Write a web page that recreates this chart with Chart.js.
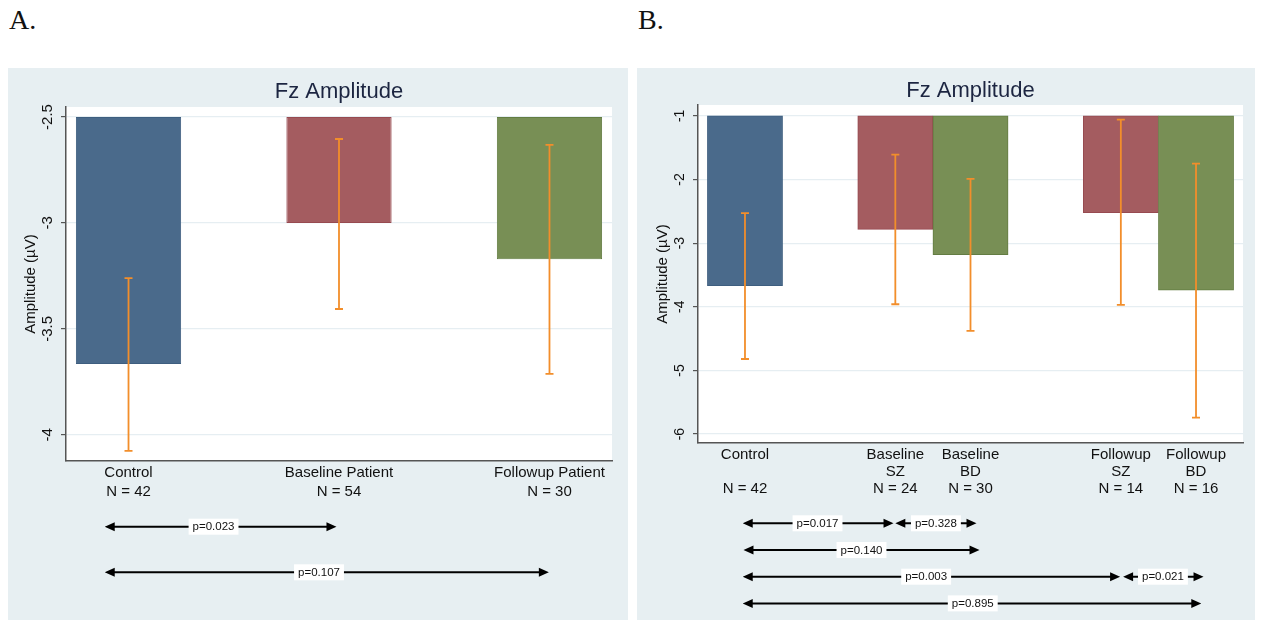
<!DOCTYPE html>
<html>
<head>
<meta charset="utf-8">
<script src="https://cdn.jsdelivr.net/npm/chart.js@4.4.1/dist/chart.umd.min.js"></script>
<style>
    body { margin: 0; background: #fff; width: 1261px; height: 620px; position: relative; overflow: hidden; }
    .panel-label { position: absolute; top: 6px; line-height: 28px; font-family: "Liberation Serif", "Times New Roman", serif; font-size: 28px; color: #111; }
    .panel { position: absolute; top: 68px; height: 552px; background: #e7eff2; }
    #panelA { left: 8px; width: 620px; }
    #panelB { left: 637px; width: 618px; }
    canvas { display: block; }
</style>
</head>
<body>
<div class="panel-label" style="left:9px">A.</div>
<div class="panel-label" style="left:638px">B.</div>
<div class="panel" id="panelA"><canvas id="chartA" width="620" height="552"></canvas></div>
<div class="panel" id="panelB"><canvas id="chartB" width="618" height="552"></canvas></div>

<script>
/* Panel A: control vs pooled patients */
const catsA = [["Control"], ["Baseline Patient"], ["Followup Patient"]];
const nA = [42, 54, 30];
const xA = [1, 2, 3];
const meanA = [-3.665, -3.0, -3.171];
const ciLoA = [-4.075, -3.406, -3.712];
const ciHiA = [-3.26, -2.604, -2.632];
const baseA = -2.5;
const yTicksA = [-4, -3.5, -3, -2.5];

/* comparisons shown under panel A */
const cmpFromA = [0.887, 0.887];
const cmpToA = [1.988, 2.997];
const cmpTextXA = [1.404, 1.905];
const cmpLabelA = ["p=0.023", "p=0.107"];
const cmpRowA = [0, 1];

/* Panel B: patients split by diagnosis */
const catsB = [["Control", ""], ["Baseline", "SZ"], ["Baseline", "BD"], ["Followup", "SZ"], ["Followup", "BD"]];
const nB = [42, 24, 30, 14, 16];
const xB = [1, 3, 4, 6, 7];
const meanB = [-3.67, -2.785, -3.18, -2.52, -3.74];
const ciLoB = [-4.82, -3.96, -4.377, -3.97, -5.74];
const ciHiB = [-2.53, -1.61, -1.99, -1.06, -1.75];
const baseB = -1;
const yTicksB = [-6, -5, -4, -3, -2, -1];

const cmpFromB = [0.97, 3.0, 0.98, 0.97, 6.03, 0.97];
const cmpToB = [2.976, 4.08, 4.12, 5.99, 7.10, 7.07];
const cmpTextXB = [1.965, 3.54, 2.55, 3.41, 6.56, 4.03];
const cmpLabelB = ["p=0.017", "p=0.328", "p=0.140", "p=0.003", "p=0.021", "p=0.895"];
const cmpRowB = [0, 0, 1, 2, 2, 3];

const COLORS = {
    navy: "#4a6a8b", navyEdge: "#3e5e7f",
    maroon: "#a45c60", maroonEdge: "#974a50",
    green: "#788f55", greenEdge: "#637c42",
    ci: "#f28e2b",
    axis: "#555",
    grid: "#e6eef2",
    text: "#111",
    title: "#1c2541",
};

const FONT = '"Liberation Sans", Arial, Helvetica, sans-serif';
Chart.defaults.font.family = FONT;
Chart.defaults.color = COLORS.text;

/* error bars, rotated y tick labels and p-value arrows */
const extrasPlugin = {
    id: "extras",
    afterDatasetsDraw(chart, args, o) {
        const { ctx, scales: { x, y } } = chart;
        ctx.save();
        ctx.strokeStyle = COLORS.ci;
        ctx.lineWidth = 1.8;
        o.xs.forEach((xv, i) => {
            const px = x.getPixelForValue(xv);
            const lo = y.getPixelForValue(o.lo[i]);
            const hi = y.getPixelForValue(o.hi[i]);
            ctx.beginPath();
            ctx.moveTo(px, hi); ctx.lineTo(px, lo);
            ctx.moveTo(px - 4, hi); ctx.lineTo(px + 4, hi);
            ctx.moveTo(px - 4, lo); ctx.lineTo(px + 4, lo);
            ctx.stroke();
        });
        ctx.restore();
    },
    afterDraw(chart, args, o) {
        const { ctx, chartArea, scales: { x, y } } = chart;
        ctx.save();
        /* y tick labels, vertical like Stata */
        ctx.fillStyle = COLORS.text;
        ctx.font = `${o.tickSize}px ${FONT}`;
        ctx.textAlign = "center";
        ctx.textBaseline = "middle";
        y.ticks.forEach(t => {
            ctx.save();
            ctx.translate(chartArea.left - 18, y.getPixelForValue(t.value));
            ctx.rotate(-Math.PI / 2);
            ctx.fillText(String(t.value), 0, 0);
            ctx.restore();
        });

        /* comparison arrows */
        ctx.font = `11.5px ${FONT}`;
        o.cmp.from.forEach((f, i) => {
            const x1 = x.getPixelForValue(f);
            const x2 = x.getPixelForValue(o.cmp.to[i]);
            const yy = o.rowY + o.cmp.row[i] * o.rowStep;
            const head = 10, hw = 4.5;
            ctx.strokeStyle = "#000";
            ctx.fillStyle = "#000";
            ctx.lineWidth = 2;
            ctx.beginPath();
            ctx.moveTo(x1 + head - 1, yy); ctx.lineTo(x2 - head + 1, yy);
            ctx.stroke();
            ctx.beginPath();
            ctx.moveTo(x1, yy); ctx.lineTo(x1 + head, yy - hw); ctx.lineTo(x1 + head, yy + hw); ctx.closePath();
            ctx.moveTo(x2, yy); ctx.lineTo(x2 - head, yy - hw); ctx.lineTo(x2 - head, yy + hw); ctx.closePath();
            ctx.fill();

            const label = o.cmp.label[i];
            const tx = x.getPixelForValue(o.cmp.textX[i]);
            const w = ctx.measureText(label).width + 8;
            ctx.fillStyle = "#fff";
            ctx.fillRect(tx - w / 2, yy - 8, w, 16);
            ctx.fillStyle = COLORS.text;
            ctx.fillText(label, tx, yy + 0.5);
        });
        ctx.restore();
    },
};

function makePanel(id, p) {
    const data = p.mean.map((m, i) => ({ x: p.xs[i], y: [p.base, m] }));
    return new Chart(document.getElementById(id), {
        type: "bar",
        data: {
            datasets: [{
                data,
                backgroundColor: p.fill,
                borderColor: p.edge,
                borderWidth: 1,
                borderSkipped: false,
                categoryPercentage: 1,
                barPercentage: p.barPct,
            }],
        },
        plugins: [extrasPlugin, {
            id: "plotBg",
            beforeDraw(chart) {
                const { ctx, chartArea: a } = chart;
                ctx.save();
                ctx.fillStyle = "#fff";
                ctx.fillRect(a.left, a.top, a.right - a.left, a.bottom - a.top);
                ctx.restore();
            },
        }],
        options: {
            responsive: false,
            animation: false,
            devicePixelRatio: 1,
            layout: { padding: { left: 0, right: p.padRight, top: 0, bottom: 0 } },
            plugins: {
                legend: { display: false },
                tooltip: { enabled: false },
                title: {
                    display: true,
                    text: "Fz Amplitude",
                    fullSize: false,
                    color: COLORS.title,
                    font: { size: 22, weight: "normal", family: FONT },
                    padding: { top: p.titlePadTop, bottom: p.titlePadBottom },
                },
                extras: {
                    xs: p.xs, lo: p.lo, hi: p.hi,
                    tickSize: p.tickSize,
                    rowY: p.rowY, rowStep: p.rowStep,
                    cmp: p.cmp,
                },
            },
            scales: {
                x: {
                    type: "linear",
                    min: p.xMin,
                    max: p.xMax,
                    offset: false,
                    afterBuildTicks: s => { s.ticks = p.xs.map(v => ({ value: v })); },
                    afterFit: s => { s.height = p.xHeight; },
                    grid: { offset: false, drawOnChartArea: false, drawTicks: false },
                    border: { display: true, color: COLORS.axis, width: 1.5 },
                    ticks: {
                        autoSkip: false,
                        maxRotation: 0,
                        padding: p.xPad,
                        color: COLORS.text,
                        font: { size: 15, lineHeight: p.xLine },
                        callback: v => {
                            const i = p.xs.indexOf(v);
                            return i < 0 ? "" : [...p.cats[i], `N = ${p.n[i]}`];
                        },
                    },
                },
                y: {
                    min: p.yMin,
                    max: p.yMax,
                    afterBuildTicks: s => { s.ticks = p.yTicks.map(v => ({ value: v })); },
                    afterFit: s => { s.width = p.yWidth; },
                    grid: { color: COLORS.grid, lineWidth: 1.2, tickColor: COLORS.axis, tickLength: 5 },
                    border: { display: true, color: COLORS.axis, width: 1.5 },
                    ticks: { display: false },
                    title: {
                        display: true,
                        text: "Amplitude (µV)",
                        color: COLORS.text,
                        font: { size: 15 },
                        padding: { top: p.yTitlePad, bottom: 0 },
                    },
                },
            },
        },
    });
}

makePanel("chartA", {
    cats: catsA, n: nA, xs: xA, mean: meanA, lo: ciLoA, hi: ciHiA, base: baseA,
    yTicks: yTicksA, yMin: -4.123, yMax: -2.453, xMin: 0.703, xMax: 3.297,
    fill: [COLORS.navy, COLORS.maroon, COLORS.green],
    edge: [COLORS.navyEdge, COLORS.maroonEdge, COLORS.greenEdge],
    barPct: 0.5, padRight: 16, titlePadTop: 10.6, titlePadBottom: 2,
    xHeight: 159, xPad: 2.5, xLine: 1.27, yWidth: 58, yTitlePad: 14, tickSize: 15,
    rowY: 458.7, rowStep: 45.6,
    cmp: { from: cmpFromA, to: cmpToA, textX: cmpTextXA, label: cmpLabelA, row: cmpRowA },
});

makePanel("chartB", {
    cats: catsB, n: nB, xs: xB, mean: meanB, lo: ciLoB, hi: ciHiB, base: baseB,
    yTicks: yTicksB, yMin: -6.14, yMax: -0.83, xMin: 0.375, xMax: 7.625,
    fill: [COLORS.navy, COLORS.maroon, COLORS.green, COLORS.maroon, COLORS.green],
    edge: [COLORS.navyEdge, COLORS.maroonEdge, COLORS.greenEdge, COLORS.maroonEdge, COLORS.greenEdge],
    barPct: 1, padRight: 12, titlePadTop: 10, titlePadBottom: 0.6,
    xHeight: 177, xPad: 3.5, xLine: 1.133, yWidth: 61, yTitlePad: 16.5, tickSize: 14,
    rowY: 455.3, rowStep: 26.7,
    cmp: { from: cmpFromB, to: cmpToB, textX: cmpTextXB, label: cmpLabelB, row: cmpRowB },
});
</script>
</body>
</html>
